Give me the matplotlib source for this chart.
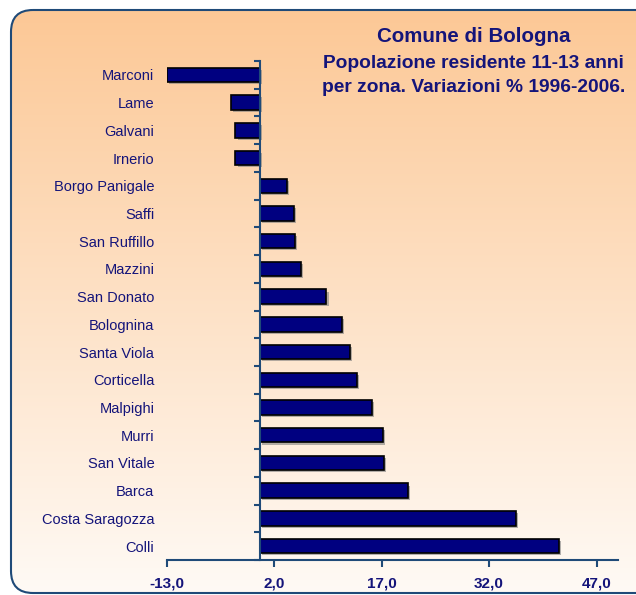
import numpy as np
import matplotlib
matplotlib.use('Agg')
import matplotlib.pyplot as plt
import matplotlib.patheffects as pe
from matplotlib.patches import FancyBboxPatch
from matplotlib.ticker import FixedLocator

zone = ['Marconi', 'Lame', 'Galvani', 'Irnerio', 'Borgo Panigale', 'Saffi',
        'San Ruffillo', 'Mazzini', 'San Donato', 'Bolognina', 'Santa Viola',
        'Corticella', 'Malpighi', 'Murri', 'San Vitale', 'Barca',
        'Costa Saragozza', 'Colli']
variazione = [-13.0, -4.0, -3.4, -3.4, 3.8, 4.8, 4.9, 5.8, 9.3, 11.5, 12.6,
              13.5, 15.7, 17.2, 17.3, 20.7, 35.7, 41.7]
xticks = [-13, 2, 17, 32, 47]
xlabels = ['-13,0', '2,0', '17,0', '32,0', '47,0']

plt.rcParams['font.family'] = ['Liberation Sans', 'DejaVu Sans']
navy = '#14147a'
axcol = '#1f4a78'

W, H = 636, 595
fig = plt.figure(figsize=(W / 100, H / 100), dpi=100)

# sfondo arrotondato con sfumatura arancio -> bianco
bg = fig.add_axes([0, 0, 1, 1], zorder=-1)
bg.set_xlim(0, W)
bg.set_ylim(H, 0)
bg.axis('off')
top = np.array([252, 200, 150]) / 255
bot = np.array([255, 250, 245]) / 255
t = np.linspace(0, 1, 256)[:, None]
grad = top[None, :] * (1 - t) + bot[None, :] * t
grad = np.repeat(grad[:, None, :], 2, axis=1)
box = FancyBboxPatch((11, 10), 660, 583, boxstyle='round,pad=0,rounding_size=22',
                     facecolor='none', edgecolor=axcol, lw=1.5, zorder=3)
bg.add_patch(box)
im = bg.imshow(grad, extent=(11, 671, 593, 10), aspect='auto', zorder=1)
im.set_clip_path(box)

ax = fig.add_axes([166.7 / W, 1 - 560 / H, (618 - 166.7) / W, 499 / H])
ax.set_facecolor('none')
y = np.arange(len(zone))
bars = ax.barh(y, variazione, height=0.52, color='#000080', edgecolor='black', lw=1.2)
for b in bars:
    b.set_path_effects([pe.SimplePatchShadow(offset=(1.5, -1.5), shadow_rgbFace='gray', alpha=0.6),
                        pe.Normal()])
ax.set_xlim(-13, 50)
ax.set_ylim(len(zone) - 0.5, -0.5)

for s in ['top', 'right']:
    ax.spines[s].set_visible(False)
ax.spines['left'].set_position(('data', 0))
ax.spines['left'].set_color(axcol)
ax.spines['left'].set_linewidth(1.5)
ax.spines['bottom'].set_color(axcol)
ax.spines['bottom'].set_linewidth(1.5)

ax.set_yticks(y)
ax.set_yticklabels(zone, fontsize=10.5, color=navy)
ax.tick_params(axis='y', which='major', length=0, pad=76)
ax.yaxis.set_minor_locator(FixedLocator(np.arange(-0.5, len(zone), 1)))
ax.tick_params(axis='y', which='minor', length=4, width=1.5, color=axcol, direction='out')

ax.set_xticks(xticks)
ax.set_xticklabels(xlabels, fontsize=11, color=navy, fontweight='bold')
ax.tick_params(axis='x', length=5, width=1.5, color=axcol, pad=7)

fig.text(473.5 / W, 1 - 37 / H, 'Comune di Bologna', ha='center', va='center',
         fontsize=14.8, fontweight='bold', color=navy)
fig.text(473.5 / W, 1 - 63 / H, 'Popolazione residente 11-13 anni', ha='center',
         va='center', fontsize=13.8, fontweight='bold', color=navy)
fig.text(473.5 / W, 1 - 87 / H, 'per zona. Variazioni % 1996-2006.', ha='center',
         va='center', fontsize=13.8, fontweight='bold', color=navy)

fig.savefig('out.png', dpi=100)
